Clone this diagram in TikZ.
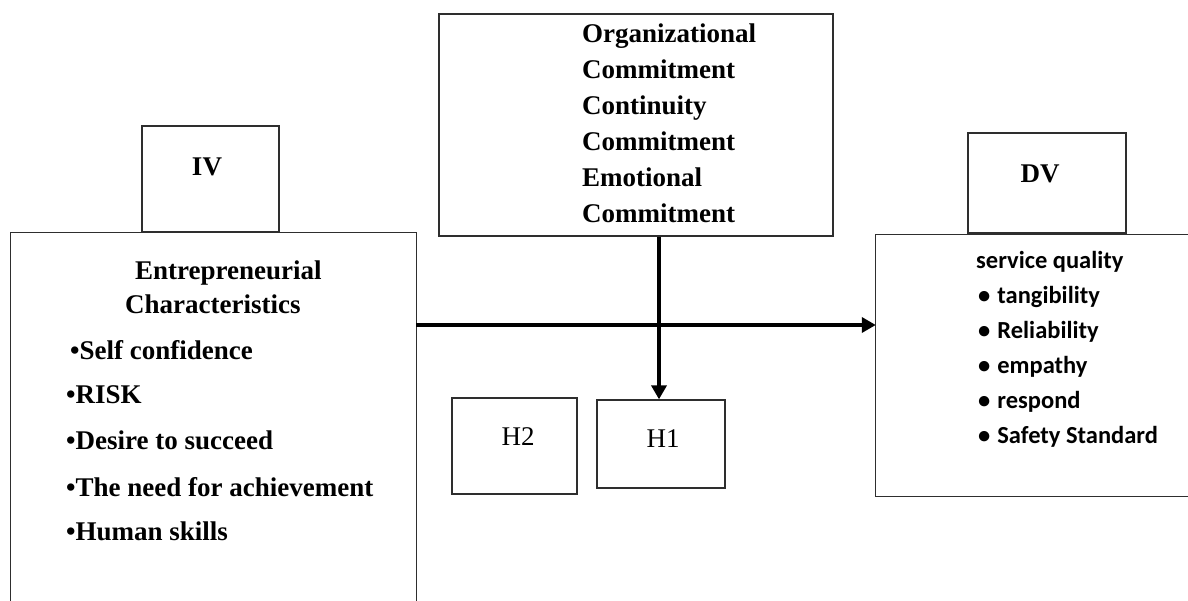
\documentclass[tikz,border=0pt]{standalone}
\usepackage{fontspec}
\setmainfont{Liberation Serif}
\newfontfamily\calibrifont{Carlito}
\usetikzlibrary{arrows.meta}
\definecolor{linec}{HTML}{2E2E2E}
\begin{document}
\begin{tikzpicture}[x=1pt,y=-1pt,
  box/.style={draw=linec, line width=1.3pt, inner sep=0pt},
  frame/.style={inner sep=0pt},
  edge/.style={draw=linec, line width=1.3pt},
  bt/.style={font=\fontsize{27}{36}\selectfont\bfseries, inner sep=0pt, anchor=west},
  rt/.style={font=\fontsize{27}{32}\selectfont, inner sep=0pt},
  ct/.style={font=\calibrifont\fontsize{24.5}{30}\selectfont\bfseries, inner sep=0pt, anchor=west},
  conn/.style={line width=4.5pt, -{Triangle[length=14pt,width=15pt]}}]
\useasboundingbox (0,0) rectangle (1188,601);

% IV
\node[box, minimum width=137pt, minimum height=106pt] (ivbox) at (210.5,179) {};
\node[bt, anchor=center] (ivt) at (207,167) {IV};
\node[frame, minimum width=405pt, minimum height=368pt] (iv) at (213.5,417) {};
\draw[edge] (iv.south west) -- (iv.north west) -- (iv.north east) -- (iv.south east);
\node[bt] (ent1) at (135,273) {Entrepreneurial};
\node[bt] (ent2) at (125,304) {Characteristics};
\node[bt] (e1) at (70,350) {•Self confidence};
\node[bt] (e2) at (66,395) {•RISK};
\node[bt] (e3) at (66,440) {•Desire to succeed};
\node[bt] (e4) at (66,487) {•The need for achievement};
\node[bt] (e5) at (66,531) {•Human skills};

% Organizational commitment
\node[box, minimum width=394pt, minimum height=222pt] (org) at (636,125) {};
\node[bt, anchor=north west, align=left] (orgt) at (582,24)
  {Organizational\\Commitment\\Continuity\\Commitment\\Emotional\\Commitment};

% DV
\node[box, minimum width=158pt, minimum height=100pt] (dvbox) at (1047,183) {};
\node[bt, anchor=center] (dvt) at (1040,174) {DV};
\node[frame, minimum width=314pt, minimum height=261pt] (dv) at (1033,365.5) {};
\draw[edge] (dv.north east) -- (dv.north west) -- (dv.south west) -- (dv.south east);
\node[ct] (sq) at (976,262) {service quality};
\node[ct] (s1) at (978,297) {\textbullet\hspace{7pt}tangibility};
\node[ct] (s2) at (978,332) {\textbullet\hspace{7pt}Reliability};
\node[ct] (s3) at (978,367) {\textbullet\hspace{7pt}empathy};
\node[ct] (s4) at (978,402) {\textbullet\hspace{7pt}respond};
\node[ct] (s5) at (978,437) {\textbullet\hspace{7pt}Safety Standard};

% Hypotheses
\node[box, minimum width=125pt, minimum height=96pt] (h2) at (514.5,446) {};
\node[rt] (h2t) at (518,437) {H2};
\node[box, minimum width=128pt, minimum height=88pt] (h1) at (661,444) {};
\node[rt] (h1t) at (663,439) {H1};

% connectors
\coordinate (hy) at (0,325);
\coordinate (vx) at (659,0);
\draw[conn] (iv.east |- hy) -- (dv.west |- hy);
\draw[conn] (org.south -| vx) -- (h1.north -| vx);
\end{tikzpicture}
\end{document}
